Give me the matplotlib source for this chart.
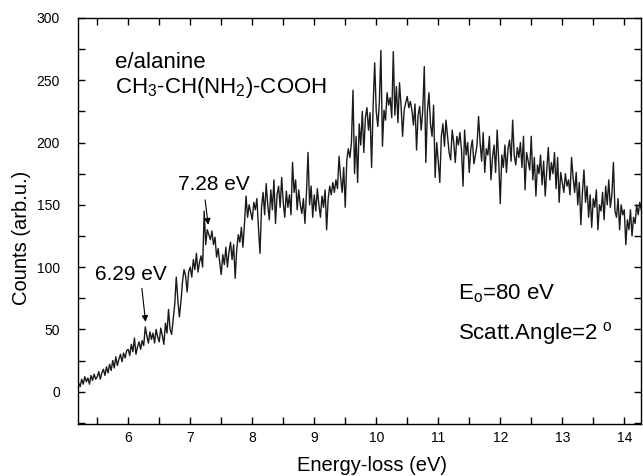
import numpy as np
import matplotlib
matplotlib.use("Agg")
import matplotlib.pyplot as plt
from matplotlib.ticker import MultipleLocator

plt.rcParams['font.family'] = ['Liberation Sans', 'DejaVu Sans']
plt.rcParams['mathtext.default'] = 'regular'

# Energy grid of the spectrum (eV)
e_start = 5.2
e_step = 0.025

# Counts, 0.025 eV apart
counts = [
    7, 4, 10, 6, 12, 8, 11, 6, 13, 9, 14, 10,
    12, 16, 10, 15, 18, 13, 20, 15, 22, 17, 25, 19, 28, 21, 26, 30, 24, 31, 27, 33,
    34, 29, 38, 32, 43, 30, 36, 40, 34, 41, 37, 52, 45, 39, 48, 42, 47, 39, 50, 44,
    40, 51, 45, 38, 55, 47, 66, 50, 46, 58, 70, 92, 74, 60, 72, 88, 98, 93, 80, 96,
    100, 92, 106, 98, 111, 96, 104, 109, 100, 145, 118, 130, 126, 122, 129, 118, 124, 108, 115, 104,
    94, 110, 102, 116, 100, 112, 120, 106, 118, 91, 114, 126, 120, 132, 116, 135, 157, 140, 150, 144,
    138, 152, 146, 155, 132, 111, 148, 160, 142, 167, 150, 138, 162, 146, 170, 135, 158, 165, 148, 172,
    152, 140, 161, 148, 158, 142, 184, 160, 170, 146, 162, 150, 143, 155, 135, 160, 192, 150, 165, 140,
    158, 145, 163, 150, 140, 157, 148, 162, 130, 155, 165, 158, 168, 160, 170, 163, 189, 172, 160, 180,
    148, 186, 195, 188, 200, 242, 175, 205, 168, 215, 198, 225, 192, 220, 228, 210, 224, 180, 230, 264,
    225, 213, 232, 274, 197, 226, 218, 240, 230, 236, 220, 273, 222, 245, 216, 248, 230, 205, 226, 232,
    237, 228, 233, 226, 214, 231, 194, 222, 229, 210, 226, 261, 184, 225, 240, 215, 205, 230, 172, 200,
    185, 168, 205, 215, 197, 218, 205, 192, 186, 210, 200, 184, 205, 198, 208, 194, 165, 210, 190, 200,
    176, 195, 202, 183, 190, 198, 221, 200, 185, 208, 176, 195, 190, 205, 170, 188, 198, 176, 210, 185,
    151, 190, 180, 198, 176, 195, 202, 185, 218, 190, 182, 196, 188, 200, 180, 205, 162, 192, 185, 178,
    205, 170, 188, 157, 182, 175, 190, 166, 185, 157, 178, 196, 170, 184, 175, 192, 163, 188, 152, 176,
    168, 160, 175, 165, 170, 158, 188, 172, 160, 176, 150, 168, 134, 160, 178, 152, 165, 140, 158, 132,
    155, 148, 162, 130, 150, 145, 160, 138, 165, 150, 170, 148, 158, 184, 145, 140, 155, 130, 150, 142,
    146, 118, 138, 130, 146, 125, 140, 135, 150, 142, 152, 146,
]

energy = e_start + e_step * np.arange(len(counts))

x_ticks = [6, 7, 8, 9, 10, 11, 12, 13, 14]
y_ticks = [0, 50, 100, 150, 200, 250, 300]

fig = plt.figure(figsize=(6.43, 4.76), dpi=100)
ax = fig.add_axes([0.1213, 0.1092, 0.8756, 0.853])

ax.plot(energy, counts, color='#1a1a1a', lw=1.0)

ax.set_xlim(5.19, 14.27)
ax.set_ylim(-26, 300)
ax.set_xticks(x_ticks)
ax.set_yticks(y_ticks)
ax.xaxis.set_minor_locator(MultipleLocator(0.5))
ax.yaxis.set_minor_locator(MultipleLocator(25))
ax.tick_params(which='both', direction='in', top=True, right=True,
               labeltop=False, labelright=False, width=1.0, labelsize=10)
ax.tick_params(which='both', length=5)
ax.tick_params(axis='x', which='major', pad=5)
ax.tick_params(axis='y', which='major', pad=13)
for s in ax.spines.values():
    s.set_linewidth(1.0)

xl = ax.set_xlabel('Energy-loss (eV)', fontsize=14.5)
xl.set_va('center')
ax.xaxis.set_label_coords(0.522, -0.101)
yl = ax.set_ylabel('Counts (arb.u.)', fontsize=14.5)
yl.set_va('center')
ax.yaxis.set_label_coords(-0.0995, 0.458)

ax.text(5.79, 264, 'e/alanine', fontsize=16, va='center', ha='left')
ax.text(5.79, 244, 'CH$_3$-CH(NH$_2$)-COOH', fontsize=16, va='center', ha='left')
ax.text(11.32, 79, 'E$_o$=80 eV', fontsize=16, va='center', ha='left')
ax.text(11.32, 47, 'Scatt.Angle=2$^{\\ o}$', fontsize=16, va='center', ha='left')

arrow = dict(arrowstyle='-|>', color='black', lw=0.8, mutation_scale=9,
             shrinkA=0, shrinkB=0)
ax.annotate('', xy=(7.29, 134), xytext=(7.24, 154), arrowprops=arrow)
ax.text(6.80, 166, '7.28 eV', fontsize=15, va='center', ha='left')
ax.annotate('', xy=(6.28, 56), xytext=(6.22, 83), arrowprops=arrow)
ax.text(5.46, 94, '6.29 eV', fontsize=15, va='center', ha='left')

fig.savefig('out.png', dpi=100)
